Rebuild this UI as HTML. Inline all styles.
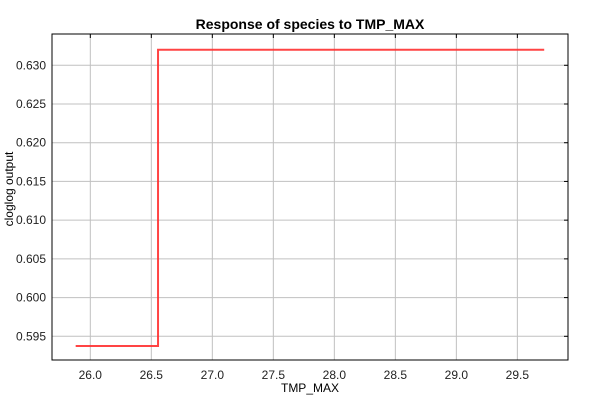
<!DOCTYPE html>
<html><head><meta charset="utf-8"><style>
body{margin:0;background:#fff;font-family:"Liberation Sans",sans-serif}
</style></head><body>
<svg width="600" height="400" font-family="Liberation Sans, sans-serif">
<rect width="600" height="400" fill="#fff"/>
<text x="310" y="29" text-anchor="middle" font-size="14" font-weight="bold">Response of species to TMP_MAX</text>
<g id="grid"></g>
<g id="series"></g>
<rect x="52" y="34" width="516" height="326" fill="none" stroke="#000" stroke-width="1"/>
<g id="axes" font-size="12" fill="#222"></g>
<text x="310" y="392" text-anchor="middle" font-size="12">TMP_MAX</text>
<text transform="translate(13,189) rotate(-90)" text-anchor="middle" font-size="12">cloglog output</text>
</svg>
<script>
const xTicks=[26.0,26.5,27.0,27.5,28.0,28.5,29.0,29.5];
const yTicks=[0.595,0.600,0.605,0.610,0.615,0.620,0.625,0.630];
const xValues=[25.88,26.555,26.555,29.72];
const yValues=[0.59375,0.59375,0.632,0.632];
const L=52,R=568,T=34,B=360,xMin=25.686,xMax=29.915,yMin=0.59194,yMax=0.63404;
const sx=v=>L+(v-xMin)/(xMax-xMin)*(R-L);
const sy=v=>B-(v-yMin)/(yMax-yMin)*(B-T);
const NS='http://www.w3.org/2000/svg';
const grid=document.getElementById('grid'),axes=document.getElementById('axes'),series=document.getElementById('series');
function mk(tag,attrs,parent){const e=document.createElementNS(NS,tag);for(const k in attrs)e.setAttribute(k,attrs[k]);parent.appendChild(e);return e;}
xTicks.forEach(v=>{const x=sx(v);
const g=mk('line',{x1:x,x2:x,y1:T,y2:B,stroke:'#c0c0c0','stroke-width':1},grid);


const tk=mk('line',{x1:x,x2:x,y1:T,y2:T+4,stroke:'#000'},axes);


const t=mk('text',{x:x,y:379,'text-anchor':'middle'},axes);t.textContent=v.toFixed(1);


});
yTicks.forEach(v=>{const y=sy(v);
const g=mk('line',{x1:L,x2:R,y1:y,y2:y,stroke:'#c0c0c0','stroke-width':1},grid);


const tk=mk('line',{x1:R-4,x2:R,y1:y,y2:y,stroke:'#000'},axes);


const t=mk('text',{x:46,y:y+4,'text-anchor':'end'},axes);t.textContent=v.toFixed(3);


});
const pts=xValues.map((v,i)=>sx(v)+','+sy(yValues[i])).join(' ');
const pl=mk('polyline',{points:pts,fill:'none',stroke:'#ff3030','stroke-width':2,'stroke-opacity':0.9},series);


</script>
</body></html>
